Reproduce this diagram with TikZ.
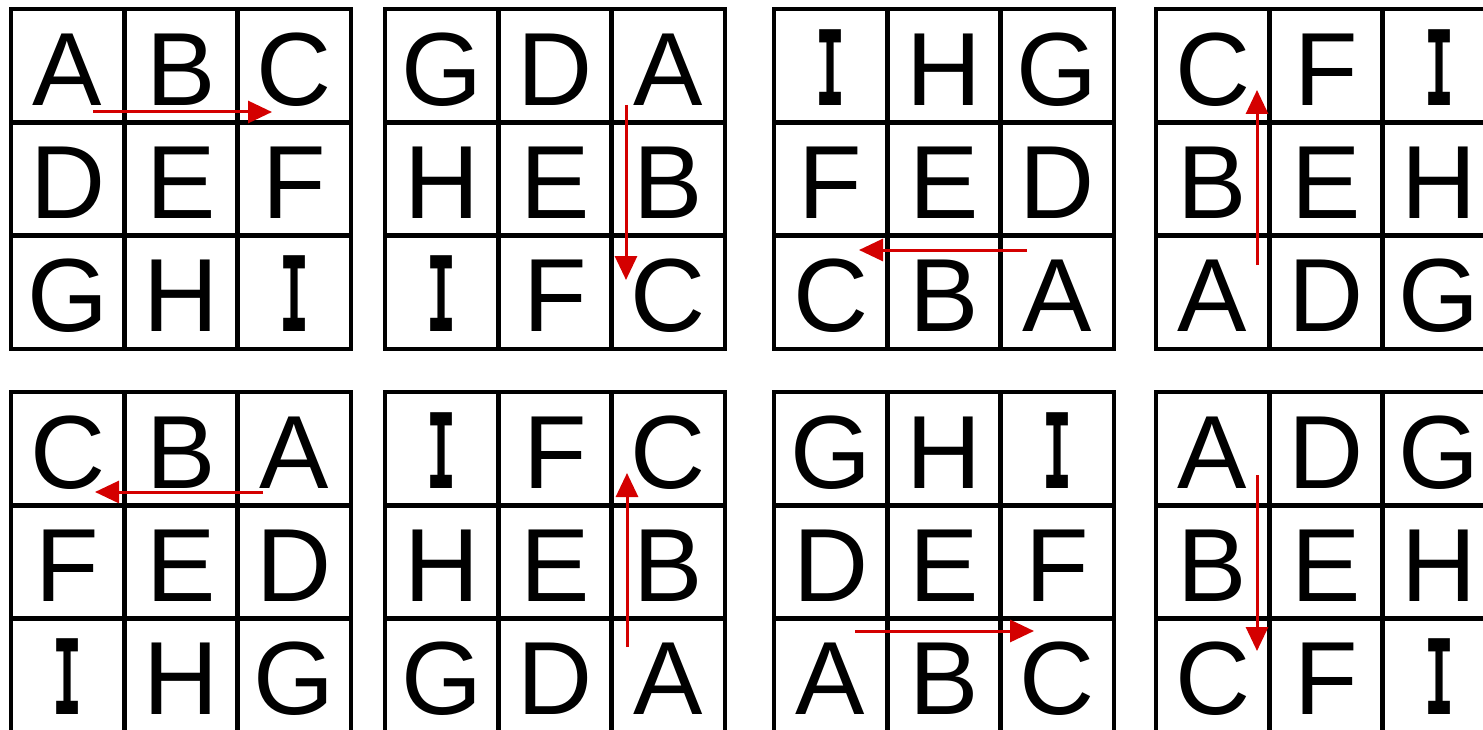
\documentclass[tikz,border=0pt]{standalone}
\usepackage{fontspec}
\setmainfont{Liberation Sans}
\newfontfamily\monob{DejaVu Sans Mono Bold}
\usetikzlibrary{arrows.meta}
\definecolor{arrred}{RGB}{212,0,0}
\newcommand\fmtletter[1]{\if#1I\scalebox{0.48}[1]{\monob I}\else#1\fi}
\tikzset{
  gridline/.style={line width=4.8pt,line cap=rect},
  letterbox/.style={inner sep=0pt,anchor=center,text height=75pt,text depth=0pt,
    font=\fontsize{104}{110}\selectfont},
  movearrow/.style={draw=arrred,line width=3pt,-{Triangle[length=24pt,width=22pt]}}
}
\begin{document}
\begin{tikzpicture}[x=1pt,y=-1pt]
\useasboundingbox (0,0) rectangle (1483,730);
\def\s{113.3}
\foreach \n/\x/\y/\letters in {
  g1/11/9/{A,B,C,D,E,F,G,H,I},
  g2/385/9/{G,D,A,H,E,B,I,F,C},
  g3/774/9/{I,H,G,F,E,D,C,B,A},
  g4/1156/9/{C,F,I,B,E,H,A,D,G},
  g5/11/392/{C,B,A,F,E,D,I,H,G},
  g6/385/392/{I,F,C,H,E,B,G,D,A},
  g7/774/392/{G,H,I,D,E,F,A,B,C},
  g8/1156/392/{A,D,G,B,E,H,C,F,I}}{
  \draw[gridline] (\x,\y) rectangle ++(3*\s,3*\s);
  \draw[gridline] (\x+\s,\y) -- ++(0,3*\s) (\x+2*\s,\y) -- ++(0,3*\s)
                  (\x,\y+\s) -- ++(3*\s,0) (\x,\y+2*\s) -- ++(3*\s,0);
  \foreach \L [count=\k from 0] in \letters {
    \pgfmathtruncatemacro\rr{int(\k/3)}
    \pgfmathtruncatemacro\cc{mod(\k,3)}
    \node[letterbox] (\n-\k) at (\x+\cc*\s+0.5*\s, \y+\rr*\s+0.5*\s+2) {\fmtletter{\L}};
  }
}
\coordinate (a1s) at (93,112);   \coordinate (a1e) at (272,112);
\coordinate (a2s) at (626,105);  \coordinate (a2e) at (626,280);
\coordinate (a3s) at (1027,250); \coordinate (a3e) at (859,250);
\coordinate (a4s) at (1257,265); \coordinate (a4e) at (1257,90);
\coordinate (a5s) at (263,492);  \coordinate (a5e) at (95,492);
\coordinate (a6s) at (627,647);  \coordinate (a6e) at (627,473);
\coordinate (a7s) at (855,631);  \coordinate (a7e) at (1034,631);
\coordinate (a8s) at (1257,475); \coordinate (a8e) at (1257,651);
\foreach \k in {1,...,8}{\draw[movearrow] (a\k s) -- (a\k e);}
\end{tikzpicture}
\end{document}
